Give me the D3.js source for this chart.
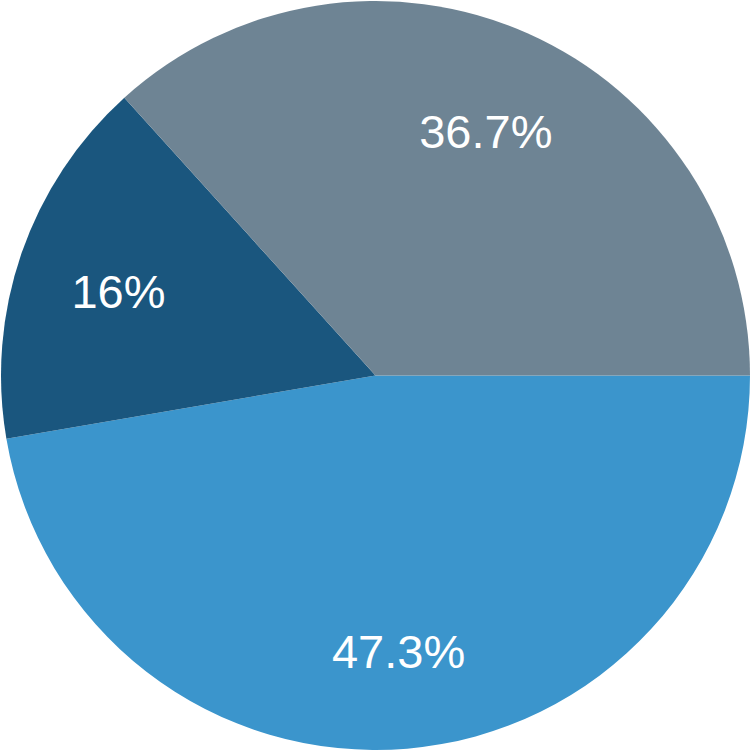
<!DOCTYPE html>
<html><head><meta charset="utf-8">
<script src="https://cdn.jsdelivr.net/npm/d3@7"></script>
<style>html,body{margin:0;padding:0;background:#fff;}svg{display:block;}</style>
</head><body>
<script>
const categories = ["A", "B", "C"];
const values = [47.3, 16, 36.7];
const labels = ["47.3%", "16%", "36.7%"];
const colors = ["#3b95cc", "#1a567e", "#6e8494"];

const W = 751, H = 751, cx = 375.5, cy = 375.5, R = 374.5;
const svg = d3.select("body").append("svg").attr("width", W).attr("height", H);
const g = svg.append("g").attr("transform", `translate(${cx},${cy})`);

const data = categories.map((c, i) => ({c, v: values[i], l: labels[i], col: colors[i]}));
const pie = d3.pie().value(d => d.v).sort(null).startAngle(Math.PI / 2).endAngle(Math.PI / 2 + 2 * Math.PI);
const arcs = pie(data);
const arc = d3.arc().innerRadius(0).outerRadius(R);
const labelArc = d3.arc().innerRadius(272).outerRadius(272);

g.selectAll("path").data(arcs).join("path")
  .attr("d", arc).attr("fill", d => d.data.col);

g.selectAll("text").data(arcs).join("text")
  .attr("transform", d => `translate(${labelArc.centroid(d)})`)
  .attr("text-anchor", "middle")
  .attr("dy", "0.45em")
  .attr("fill", "#fff")
  .style("font-family", "'Liberation Sans', Arial, sans-serif")
  .style("font-size", "47px")
  .text(d => d.data.l);
</script>
</body></html>
